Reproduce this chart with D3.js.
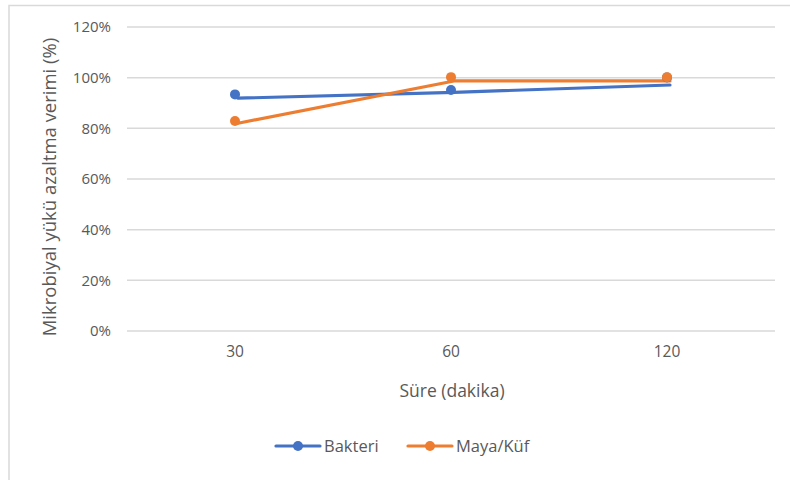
<!DOCTYPE html>
<html>
<head>
<meta charset="utf-8">
<script src="https://cdn.jsdelivr.net/npm/d3@7"></script>
<style>
  html, body { margin: 0; padding: 0; background: #fff; }
  svg { display: block; font-family: "Open Sans", "Noto Sans", sans-serif; }
</style>
</head>
<body>
<svg id="chart" width="790" height="480"></svg>
<script>
// Exposure time categories (minutes)
const categories = ["30", "60", "120"];
// Microbial load reduction efficiency (%) – marker values
const bakteriPoints = [93.4, 95.1, 100.1];
const mayaKufPoints = [82.9, 100.2, 100.2];
// Connecting line values (%)
const bakteriLine = [91.9, 94.2, 97.1];
const mayaKufLine = [82.0, 98.7, 98.7];
const yTicks = [0, 20, 40, 60, 80, 100, 120];
const seriesNames = ["Bakteri", "Maya/Küf"];
const colors = ["#4472C4", "#ED7D31"];

const svg = d3.select("#chart");
const textColor = "#595959";

// outer frame
svg.append("path")
  .attr("d", "M9,480 V5.5 H790")
  .attr("fill", "none").attr("stroke", "#d9d9d9").attr("stroke-width", 1.5);

const plot = { left: 127, right: 775, top: 27, bottom: 331 };

const x = d3.scaleBand().domain(categories).range([plot.left, plot.right]);
const y = d3.scaleLinear().domain([0, 120]).range([plot.bottom, plot.top]);
const cx = c => x(c) + x.bandwidth() / 2;

// gridlines
svg.append("g").selectAll("line").data(yTicks).join("line")
  .attr("x1", plot.left).attr("x2", plot.right)
  .attr("y1", d => y(d)).attr("y2", d => y(d))
  .attr("stroke", "#d9d9d9").attr("stroke-width", 1.5);

// y axis labels
const yAxis = d3.axisLeft(y).tickValues(yTicks).tickFormat(d => d + "%").tickSize(0).tickPadding(0);
const gy = svg.append("g").attr("transform", `translate(${plot.left - 16},0)`).call(yAxis);
gy.select(".domain").remove();
gy.selectAll("text").attr("fill", textColor).style("font-size", "15px")
  .style("font-family", "'Open Sans', sans-serif");

// x axis labels
const xAxis = d3.axisBottom(x).tickSize(0).tickPadding(0);
const gx = svg.append("g").attr("transform", `translate(0,${plot.bottom + 15})`).call(xAxis);
gx.select(".domain").remove();
gx.selectAll("text").attr("fill", textColor).style("font-size", "15.5px")
  .style("font-family", "'Open Sans', sans-serif");

// axis titles
svg.append("text")
  .attr("x", 452).attr("y", 397)
  .attr("text-anchor", "middle").attr("fill", textColor).style("font-size", "17.5px")
  .text("Süre (dakika)");
svg.append("text")
  .attr("transform", `translate(56,187) rotate(-90)`)
  .attr("text-anchor", "middle").attr("fill", textColor).style("font-size", "18.5px")
  .text("Mikrobiyal yükü azaltma verimi (%)");

// series
const lineGen = d3.line().x((d, i) => cx(categories[i])).y(d => y(d));
const lines = [bakteriLine, mayaKufLine];
const points = [bakteriPoints, mayaKufPoints];

lines.forEach((vals, s) => {
  svg.append("path").datum(vals)
    .attr("d", lineGen)
    .attr("transform", "translate(3,0)")
    .attr("fill", "none").attr("stroke", colors[s])
    .attr("stroke-width", 3.2).attr("stroke-linejoin", "round").attr("stroke-linecap", "round");
});
points.forEach((vals, s) => {
  svg.append("g").selectAll("circle").data(vals).join("circle")
    .attr("cx", (d, i) => cx(categories[i]))
    .attr("cy", d => y(d))
    .attr("r", 5)
    .attr("fill", colors[s]);
});

// legend
const legend = svg.append("g");
const legendX = [276, 408];
seriesNames.forEach((name, s) => {
  const g = legend.append("g").attr("transform", `translate(${legendX[s]},446)`);
  g.append("line").attr("x1", 0).attr("x2", 44).attr("y1", 0).attr("y2", 0)
    .attr("stroke", colors[s]).attr("stroke-width", 3.2).attr("stroke-linecap", "round");
  g.append("circle").attr("cx", 22).attr("cy", 0).attr("r", 5).attr("fill", colors[s]);
  g.append("text").attr("x", 48).attr("y", 6).attr("fill", textColor)
    .style("font-size", "16.5px").text(name);
});
</script>
</body>
</html>
